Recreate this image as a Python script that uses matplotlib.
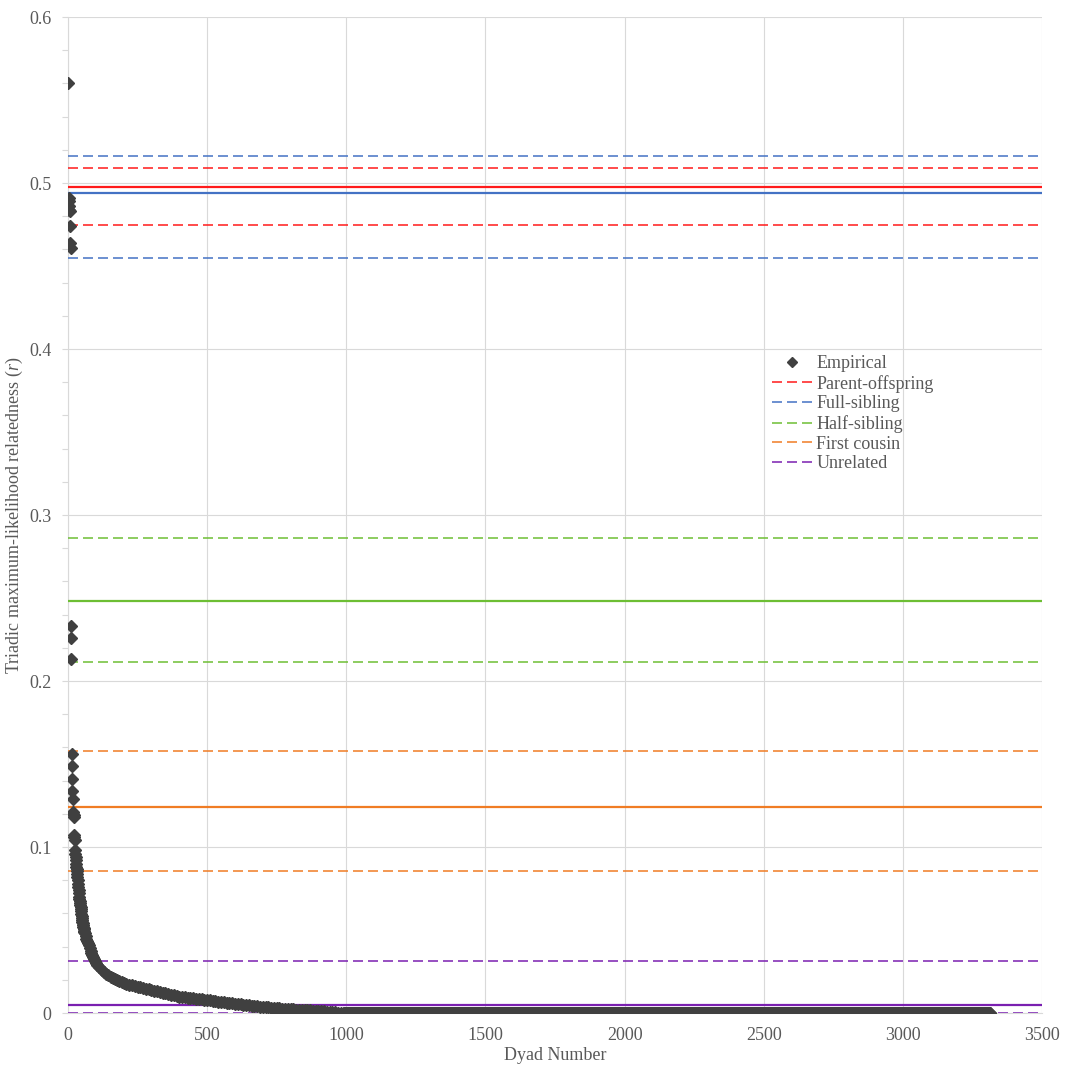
import numpy as np
import matplotlib
matplotlib.use("Agg")
import matplotlib.pyplot as plt

plt.rcParams["font.family"] = ["Liberation Serif", "DejaVu Serif"]
plt.rcParams["mathtext.fontset"] = "custom"
plt.rcParams["mathtext.it"] = "Liberation Serif:italic"
plt.rcParams["lines.scale_dashes"] = False

# ranked empirical relatedness values (dyad number -> r)
head_dyad = list(range(1, 25))
head_r = [0.5604, 0.491, 0.489, 0.486, 0.484, 0.483, 0.474, 0.464, 0.461,
          0.233, 0.226, 0.213, 0.156, 0.149, 0.141, 0.134, 0.129,
          0.121, 0.120, 0.119, 0.118, 0.107, 0.106, 0.104]

steep_dyad = list(range(25, 61))
steep_r = [0.098, 0.096, 0.094, 0.092, 0.090, 0.088, 0.0867, 0.0853, 0.084,
           0.082, 0.080, 0.078, 0.076, 0.074, 0.072, 0.070, 0.0688, 0.0676,
           0.0664, 0.0652, 0.064, 0.0626, 0.0612, 0.0598, 0.0584, 0.057,
           0.056, 0.055, 0.054, 0.053, 0.052, 0.0512, 0.0504, 0.0496,
           0.0488, 0.048]

knee_dyad = [63, 66, 69, 72, 75, 78, 81, 84, 87, 90, 93, 96, 99,
             105, 113, 121, 129, 137, 145, 153, 161, 169, 177, 185, 193, 201]
knee_r = [0.0462, 0.0446, 0.0435, 0.0424, 0.0409, 0.0391, 0.0376, 0.0364,
          0.0352, 0.0340, 0.0327, 0.0314, 0.0304,
          0.0292, 0.0275, 0.0261, 0.0247, 0.0235, 0.0226, 0.0218, 0.0211,
          0.0205, 0.0198, 0.0192, 0.0186, 0.0180]

tail_dyad = list(range(210, 990, 10))
tail_r = [0.0176, 0.0171, 0.0167, 0.0162, 0.0158, 0.0154, 0.0150, 0.0146,
          0.0142, 0.0138, 0.0134, 0.0130, 0.0126, 0.0122, 0.0118, 0.0114,
          0.0110, 0.0106, 0.0102, 0.0099, 0.0097, 0.0094, 0.0092, 0.0090,
          0.0088, 0.0086, 0.0084, 0.0082, 0.0080, 0.0078, 0.0076, 0.0074,
          0.0071, 0.0069, 0.0067, 0.0065, 0.0062, 0.0060, 0.0058, 0.0056,
          0.0054, 0.0052, 0.0050, 0.0048, 0.0046, 0.0044, 0.0042, 0.0040,
          0.0038, 0.0037, 0.0035, 0.0034, 0.0033, 0.0031, 0.0030, 0.0029,
          0.0027, 0.0026, 0.0025, 0.0024, 0.0023, 0.0021, 0.0020, 0.0019,
          0.0018, 0.0017, 0.0016, 0.0015, 0.0014, 0.0012, 0.0011, 0.0010,
          0.0008, 0.0007, 0.0006, 0.0004, 0.0002, 0.0001]

# dyads 990..3313 all sit at r = 0
zero_dyad = np.arange(990, 3314)
zero_r = np.zeros(len(zero_dyad))

# expected relatedness per category: (lower bound, mean, upper bound)
categories = ["Parent-offspring", "Full-sibling", "Half-sibling",
              "First cousin", "Unrelated"]
cat_mean = [0.4976, 0.4942, 0.2480, 0.1241, 0.0048]
cat_low = [0.4749, 0.4546, 0.2112, 0.0855, 0.0000]
cat_high = [0.5089, 0.5164, 0.2862, 0.1578, 0.0313]
cat_colors = ["#FF1A1A", "#4472C4", "#6DBE34", "#F07C24", "#7A1FB0"]

dyad = np.concatenate([head_dyad, steep_dyad, knee_dyad, tail_dyad, zero_dyad])
r_val = np.concatenate([head_r, steep_r, knee_r, tail_r, zero_r])

fig = plt.figure(figsize=(10.70, 10.69), dpi=100)
ax = fig.add_axes([68 / 1070, 1 - 1013 / 1069, 974 / 1070, 996 / 1069])

text_gray = "#595959"
grid_gray = "#D9D9D9"
dash = (0, (7.2, 3.6))

ax.plot(dyad, r_val, linestyle="none", marker="D", ms=6, color="#404040",
        mec="#404040", label="Empirical", zorder=5)

for name, m, lo, hi, c in zip(categories, cat_mean, cat_low, cat_high, cat_colors):
    ax.axhline(m, color=c, lw=1.6, zorder=3)
    ax.axhline(lo, color=c, lw=1.1, linestyle=dash, zorder=3)
    ax.axhline(hi, color=c, lw=1.1, linestyle=dash, zorder=3, label=name)

ax.set_xlim(0, 3500)
ax.set_ylim(0, 0.6)
ax.set_xticks(np.arange(0, 3501, 500))
ax.set_yticks(np.arange(0, 0.61, 0.1))
ax.set_yticks(np.arange(0, 0.61, 0.02), minor=True)
ax.set_yticklabels(["0", "0.1", "0.2", "0.3", "0.4", "0.5", "0.6"])
ax.grid(True, which="major", color=grid_gray, lw=0.8, zorder=0)
ax.set_axisbelow(True)

for side in ["top", "right"]:
    ax.spines[side].set_visible(False)
for side in ["left", "bottom"]:
    ax.spines[side].set_color(grid_gray)
    ax.spines[side].set_linewidth(0.8)

ax.tick_params(axis="x", length=0, pad=10, labelsize=13, labelcolor=text_gray)
ax.tick_params(axis="y", which="both", length=4, width=0.8, color=grid_gray,
               pad=8, labelsize=13, labelcolor=text_gray)

ax.set_xlabel("Dyad Number", fontsize=13, color=text_gray, labelpad=2)
ax.set_ylabel(r"Triadic maximum-likelihood relatedness ($\mathit{r}$)",
              fontsize=13, color=text_gray, labelpad=3)

leg = ax.legend(loc="upper left", bbox_to_anchor=(772 / 1070, 1 - 355 / 1069),
                bbox_transform=fig.transFigure, frameon=False, fontsize=13,
                handlelength=2.2, handletextpad=0.25, labelspacing=0.15,
                borderpad=0, borderaxespad=0, markerscale=0.8)
for t in leg.get_texts():
    t.set_color(text_gray)

fig.savefig("out.png", dpi=100)
